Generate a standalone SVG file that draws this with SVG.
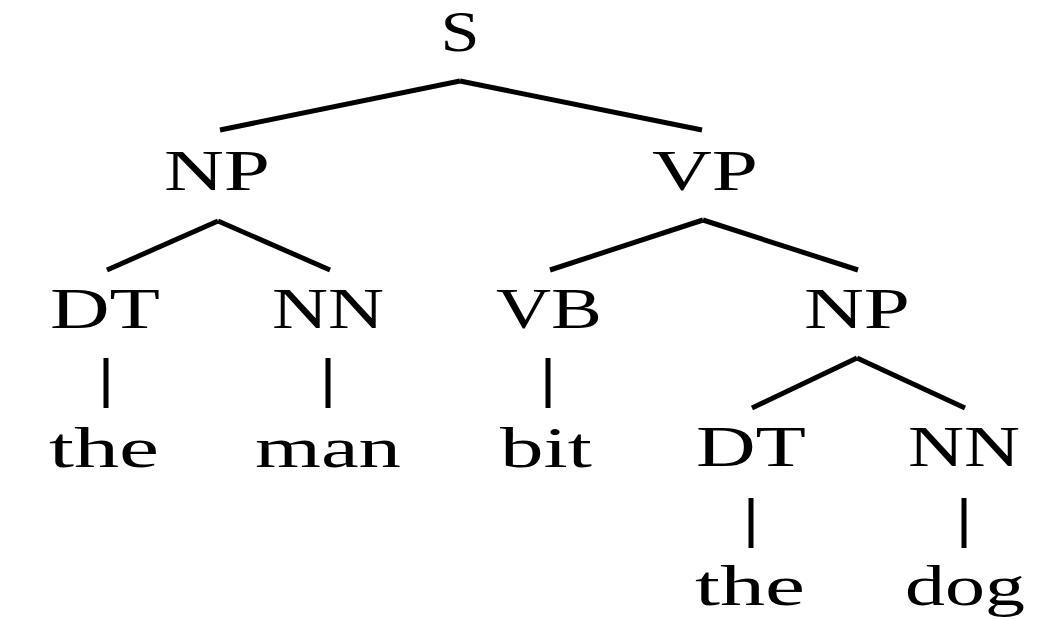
<svg xmlns="http://www.w3.org/2000/svg" width="1052" height="620" viewBox="0 0 1052 620">
  <style>
    .lbl { font-family: "Liberation Serif", "DejaVu Serif", serif; font-size: 58px; fill: #000; text-anchor: middle; }
    .edge { stroke: #000; stroke-width: 5; fill: none; }
  </style>
  <rect width="1052" height="620" fill="#fff"/>
  <g id="connectors">
    <line class="edge" x1="460" y1="81" x2="220" y2="130"/>
    <line class="edge" x1="460" y1="81" x2="702" y2="130"/>
    <line class="edge" x1="218" y1="221" x2="107" y2="270"/>
    <line class="edge" x1="218" y1="221" x2="330" y2="270"/>
    <line class="edge" x1="703" y1="220" x2="550" y2="270"/>
    <line class="edge" x1="703" y1="220" x2="858" y2="270"/>
    <line class="edge" x1="106" y1="358" x2="106" y2="408"/>
    <line class="edge" x1="328" y1="358" x2="328" y2="408"/>
    <line class="edge" x1="548" y1="358" x2="548" y2="408"/>
    <line class="edge" x1="857" y1="358" x2="752" y2="408"/>
    <line class="edge" x1="857" y1="358" x2="965" y2="408"/>
    <line class="edge" x1="751" y1="498" x2="751" y2="548"/>
    <line class="edge" x1="964" y1="498" x2="964" y2="548"/>
  </g>
  <g id="n-s"><text class="lbl" x="460" y="51" textLength="39" lengthAdjust="spacingAndGlyphs">S</text></g>
  <g id="n-np1"><text class="lbl" x="217" y="190" textLength="106" lengthAdjust="spacingAndGlyphs">NP</text></g>
  <g id="n-vp"><text class="lbl" x="705" y="190" textLength="106" lengthAdjust="spacingAndGlyphs">VP</text></g>
  <g id="n-dt1"><text class="lbl" x="105" y="328" textLength="110" lengthAdjust="spacingAndGlyphs">DT</text></g>
  <g id="n-nn1"><text class="lbl" x="328" y="328" textLength="112" lengthAdjust="spacingAndGlyphs">NN</text></g>
  <g id="n-vb"><text class="lbl" x="549" y="328" textLength="106" lengthAdjust="spacingAndGlyphs">VB</text></g>
  <g id="n-np2"><text class="lbl" x="857" y="328" textLength="106" lengthAdjust="spacingAndGlyphs">NP</text></g>
  <g id="w-the1"><text class="lbl" x="104" y="467" textLength="110" lengthAdjust="spacingAndGlyphs">the</text></g>
  <g id="w-man"><text class="lbl" x="328" y="467" textLength="146" lengthAdjust="spacingAndGlyphs">man</text></g>
  <g id="w-bit"><text class="lbl" x="546" y="467" textLength="92" lengthAdjust="spacingAndGlyphs">bit</text></g>
  <g id="n-dt2"><text class="lbl" x="751" y="466" textLength="110" lengthAdjust="spacingAndGlyphs">DT</text></g>
  <g id="n-nn2"><text class="lbl" x="964" y="466" textLength="112" lengthAdjust="spacingAndGlyphs">NN</text></g>
  <g id="w-the2"><text class="lbl" x="750" y="605" textLength="110" lengthAdjust="spacingAndGlyphs">the</text></g>
  <g id="w-dog"><text class="lbl" x="965" y="605" textLength="120" lengthAdjust="spacingAndGlyphs">dog</text></g>
</svg>
